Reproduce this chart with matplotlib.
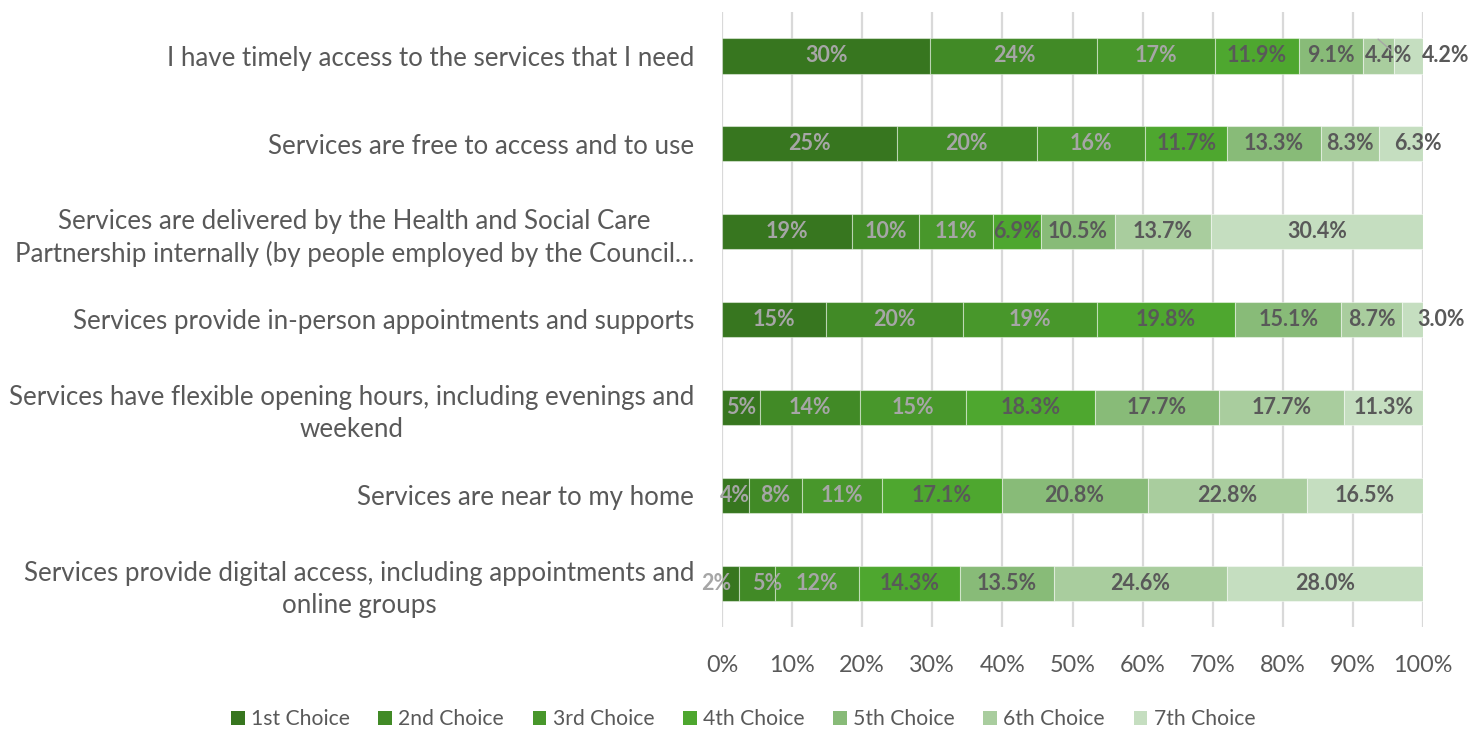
import matplotlib
matplotlib.use("Agg")
import matplotlib.pyplot as plt
from matplotlib.patches import Patch
import numpy as np

plt.rcParams['font.family'] = ['Lato', 'DejaVu Sans']

categories = [
    "I have timely access to the services that I need",
    "Services are free to access and to use",
    "Services are delivered by the Health and Social Care\nPartnership internally (by people employed by the Council…",
    "Services provide in-person appointments and supports",
    "Services have flexible opening hours, including evenings and\nweekend",
    "Services are near to my home",
    "Services provide digital access, including appointments and\nonline groups",
]

series_names = ["1st Choice", "2nd Choice", "3rd Choice", "4th Choice",
                "5th Choice", "6th Choice", "7th Choice"]

# percentage of respondents per choice rank, one list per statement
choice_1 = [29.7, 24.9, 18.6, 14.8, 5.4, 3.8, 2.4]
choice_2 = [23.8, 20.0, 9.6, 19.6, 14.3, 7.6, 5.1]
choice_3 = [16.8, 15.5, 10.6, 19.1, 15.1, 11.4, 12.1]
choice_4 = [11.9, 11.7, 6.9, 19.8, 18.3, 17.1, 14.3]
choice_5 = [9.1, 13.3, 10.5, 15.1, 17.7, 20.8, 13.5]
choice_6 = [4.4, 8.3, 13.7, 8.7, 17.7, 22.8, 24.6]
choice_7 = [4.2, 6.3, 30.4, 3.0, 11.3, 16.5, 28.0]

series_values = [choice_1, choice_2, choice_3, choice_4, choice_5, choice_6, choice_7]
label_decimals = [0, 0, 0, 1, 1, 1, 1]

colors = ["#37761F", "#418A26", "#48972B", "#4EA72F", "#88BB78", "#A9CD9E", "#C5DEC0"]
label_colors = ["#A6A6A6", "#A6A6A6", "#A6A6A6", "#595959", "#595959", "#595959", "#595959"]

# nudges (pixels) for labels that would collide with neighbours: (row, series) -> dx
label_nudge = {(0, 5): 11, (0, 6): 37, (1, 6): 17, (3, 6): 29, (6, 0): -14, (6, 1): 10}

fig = plt.figure(figsize=(14.84, 7.29), dpi=100)
ax = fig.add_axes([722 / 1484, 1 - 627 / 729, (1423 - 722) / 1484, (627 - 12) / 729])

data = np.array(series_values, dtype=float)  # shape (series, rows)
totals = data.sum(axis=0)
shares = data / totals * 100.0
y = np.arange(len(categories))
left = np.zeros(len(categories))

for s, name in enumerate(series_names):
    ax.barh(y, shares[s], left=left, height=0.4, color=colors[s],
            edgecolor=(1, 1, 1, 0.45), linewidth=0.8, label=name, zorder=3)
    for r in range(len(categories)):
        cx = left[r] + shares[s][r] / 2
        txt = f"{data[s][r]:.{label_decimals[s]}f}%"
        dx = label_nudge.get((r, s), 0)
        ax.annotate(txt, xy=(cx, y[r]), xytext=(dx, 0), textcoords="offset pixels",
                    ha="center", va="center", fontsize=15.5, fontweight="bold",
                    color=label_colors[s], zorder=5)
    left = left + shares[s]

# leader line for the displaced label in the first row
r, s = 0, 5
seg_left = shares[:s, r].sum()
cx = seg_left + shares[s, r] / 2
ax.annotate("", xy=(cx, r - 0.19), xytext=(cx + 1.9, r - 0.06),
            arrowprops=dict(arrowstyle="-", color="#A6A6A6", lw=1.0,
                            shrinkA=0, shrinkB=0), zorder=6)

ax.set_xlim(0, 100)
ax.set_ylim(len(categories) - 0.5, -0.5)
ax.set_xticks(np.arange(0, 101, 10))
ax.set_xticklabels([f"{v}%" for v in range(0, 101, 10)])
ax.set_yticks(y)
ax.set_yticklabels(categories, multialignment="center")
for lbl in ax.get_yticklabels():
    lbl.set_linespacing(1.35)
ax.tick_params(axis="x", length=0, pad=20, labelsize=16.8, labelcolor="#595959")
ax.tick_params(axis="y", length=0, pad=20, labelsize=18.6, labelcolor="#595959")
ax.grid(axis="x", color="#D9D9D9", linewidth=1.6, zorder=0)
ax.set_axisbelow(True)
for sp in ax.spines.values():
    sp.set_visible(False)

handles = [Patch(facecolor=c, edgecolor="none") for c in colors]
fig.legend(handles, series_names, loc="center", bbox_to_anchor=(743 / 1484, 1 - 719 / 729),
           ncol=7, frameon=False, fontsize=15.2, labelcolor="#595959",
           handlelength=0.65, handleheight=0.65, handletextpad=0.3, columnspacing=1.35)

fig.savefig("out.png", dpi=100)
